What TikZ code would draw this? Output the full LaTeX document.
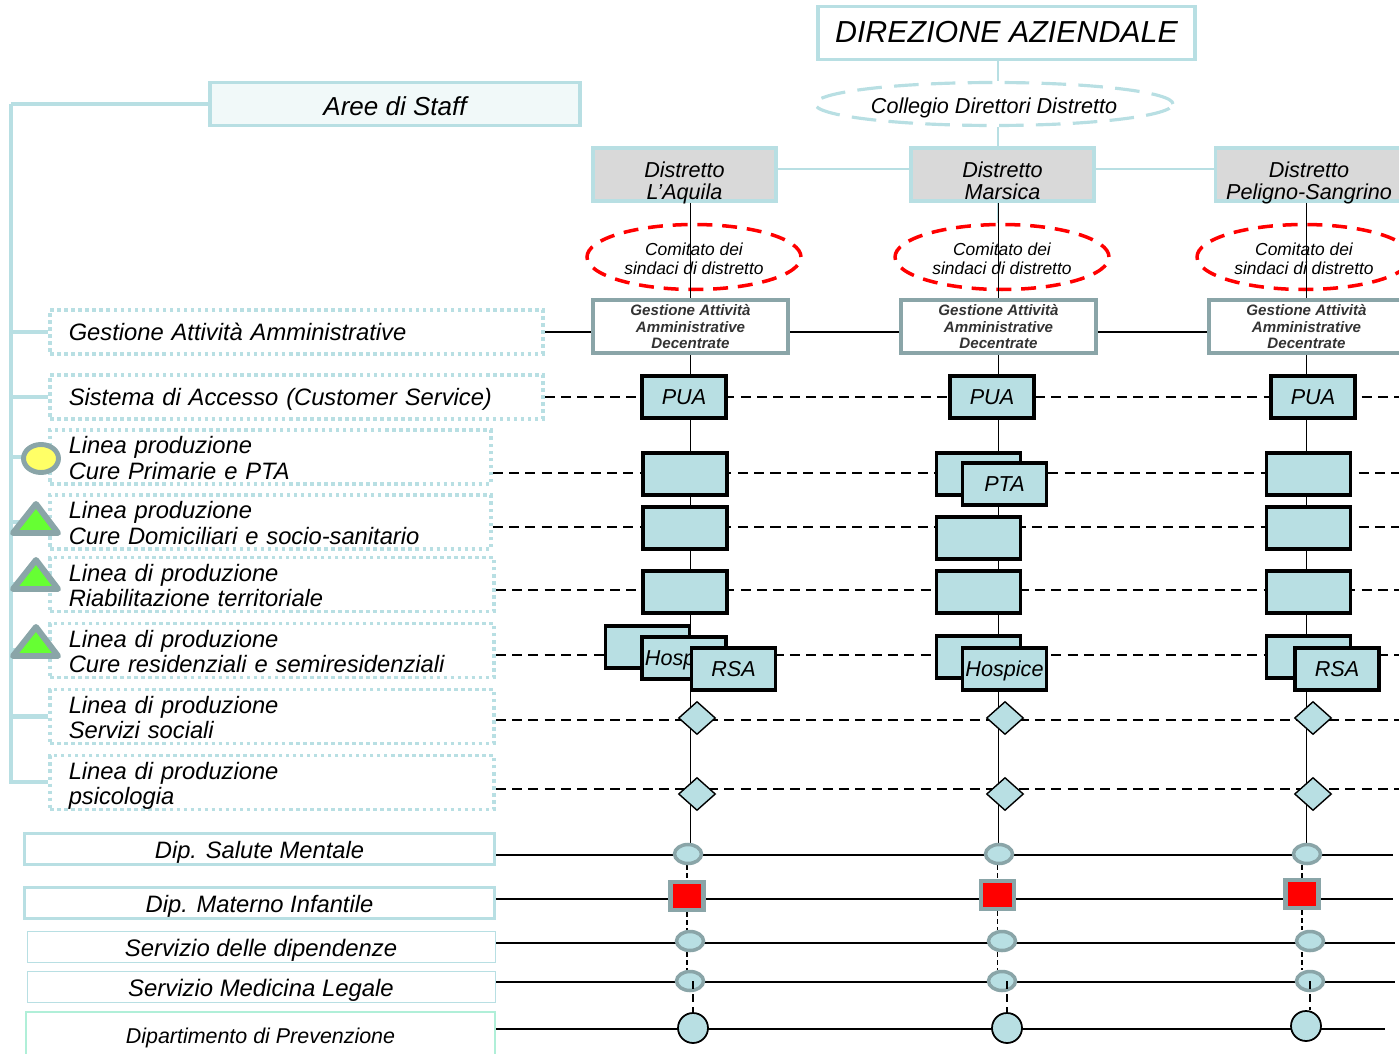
\documentclass[tikz,border=0pt]{standalone}
\usepackage{fontspec}
\setmainfont{Liberation Sans}
\usetikzlibrary{shapes, backgrounds}
\definecolor{paleblue}{HTML}{B8DFE3}
\definecolor{palegrey}{HTML}{8AA5A8}
\definecolor{palegreen}{HTML}{B0EFD8}
\definecolor{staffbg}{HTML}{F1F9F9}
\definecolor{icogreen}{HTML}{66FF33}
\definecolor{icoyellow}{HTML}{FFFF66}
\tikzset{
	every node/.style={font=\itshape, inner sep=0pt, align=center, text depth=0pt},
	txtbig/.style={font=\itshape\fontsize{17.3pt}{20pt}\selectfont, text depth=.04cm},
	txtmain/.style={font=\itshape\fontsize{13.5pt}{14.6pt}\selectfont},
	txtdist/.style={font=\itshape\fontsize{12.3pt}{12.8pt}\selectfont},
	txtcom/.style={font=\itshape\fontsize{9.9pt}{11.2pt}\selectfont, text height=.72cm},
	txtgest/.style={font=\itshape\bfseries\fontsize{8.6pt}{9.2pt}\selectfont, text=black!80},
	staffline/.style={draw=paleblue, line width=2.6pt},
	thinblue/.style={draw=paleblue, line width=.6pt},
	distbox/.style={draw=paleblue, line width=2.2pt, fill=black!15, minimum width=3.65cm, minimum height=1.06cm, txtdist, text height=1cm},
	comell/.style={ellipse, draw=red, line width=2pt, dash pattern=on 8.5pt off 5.6pt, minimum width=4.28cm, minimum height=1.3cm, txtcom},
	gestbox/.style={draw=palegrey, line width=2.2pt, fill=white, minimum width=3.9cm, minimum height=1.06cm, txtgest},
	servbox/.style={draw=black, line width=2pt, fill=paleblue, minimum width=1.68cm, minimum height=.84cm, txtdist},
	dotbox/.style={draw=paleblue, line width=2pt, dash pattern=on 2pt off 2pt, fill=white, txtmain, align=left, text width=#1, inner xsep=.375cm},
	oneline/.style={minimum height=.88cm},
	twoline/.style={minimum height=1.08cm, text depth=.48cm},
	rowdash/.style={draw=black, line width=1.2pt, dash pattern=on 5.7pt off 3.6pt},
	rowline/.style={draw=black, line width=1pt},
	colline/.style={draw=black, line width=1.1pt},
	dotline/.style={draw=black, line width=.8pt, dash pattern=on 2.5pt off 2pt},
	lastline/.style={draw=black, line width=1.2pt, dash pattern=on 4.5pt off 3pt},
	dia/.style={diamond, draw=black, line width=.8pt, fill=paleblue, minimum width=.74cm, minimum height=.66cm},
	ell/.style={ellipse, draw=palegrey, line width=2pt, fill=paleblue, minimum width=.54cm, minimum height=.38cm},
	sq/.style={draw=palegrey, line width=2.6pt, fill=red, minimum width=.66cm, minimum height=.56cm},
	roundel/.style={circle, draw=black, line width=1pt, fill=paleblue, minimum size=.6cm},
	dipbox/.style={draw=paleblue, line width=1.8pt, fill=white, minimum width=9.4cm, minimum height=.62cm, txtmain, text height=.38cm},
	servlight/.style={draw=paleblue, line width=.5pt, fill=white, minimum width=9.36cm, minimum height=.62cm, font=\itshape\fontsize{13.6pt}{14.6pt}\selectfont, text height=.38cm},
	icotri/.style={draw=palegrey, line width=3.4pt, line join=round, fill=icogreen}
}
\begin{document}
\begin{tikzpicture}[x=0.02cm, y=-0.02cm]
	\useasboundingbox (0,0) rectangle (1399,1054);
	\coordinate (spineTop) at (11,104);
	\coordinate (spineEnd) at (11,782);
	\coordinate (staffRow) at (998,169);
	\coordinate (endGest) at (1399,332);
	\coordinate (endCure) at (1399,473);
	\coordinate (endDom) at (1399,527);
	\coordinate (endRiab) at (1399,590);
	\coordinate (endRes) at (1399,655);
	\coordinate (endSoc) at (1399,720);
	\coordinate (endPsi) at (1399,789);
	\coordinate (endSalute) at (1393,855);
	\coordinate (endMaterno) at (1393,899);
	\coordinate (endDipend) at (1395,943);
	\coordinate (endLegale) at (1395,982);
	\coordinate (endPrev) at (1385,1029);
	\coordinate (endPua) at (1399,397);

	\node[draw=paleblue, line width=1.8pt, fill=white, minimum width=7.54cm, minimum height=1.06cm, txtbig] (direzione) at (1006.5,33) {DIREZIONE AZIENDALE};
	\node[draw=paleblue, line width=1.8pt, fill=staffbg, minimum width=7.4cm, minimum height=.86cm, font=\itshape\fontsize{14.8pt}{16pt}\selectfont, text height=.46cm] (aree) at (395,104) {Aree di Staff};
	\node[ellipse, draw=paleblue, line width=1.8pt, dash pattern=on 14pt off 7pt, fill=white, minimum width=7.16cm, minimum height=.86cm, font=\itshape\fontsize{12.3pt}{14pt}\selectfont, text height=.4cm] (collegio) at (994,104) {Collegio Direttori Distretto};

	\node[distbox] (distAquila) at (684.5,174.5) {Distretto\\L’Aquila};
	\node[distbox] (distMarsica) at (1002.5,174.5) {Distretto\\Marsica};
	\node[distbox, minimum width=3.74cm] (distPeligno) at (1309,174.5) {Distretto\\Peligno-Sangrino};

	\node[comell] (comAquila) at (694,257) {Comitato dei\\sindaci di distretto};
	\node[comell] (comMarsica) at (1002,257) {Comitato dei\\sindaci di distretto};
	\node[comell] (comPeligno) at (1304,257) {Comitato dei\\sindaci di distretto};

	\node[gestbox] (gestAquila) at (690.5,326.5) {Gestione Attività\\Amministrative\\Decentrate};
	\node[gestbox] (gestMarsica) at (998.5,326.5) {Gestione Attività\\Amministrative\\Decentrate};
	\node[gestbox] (gestPeligno) at (1306.5,326.5) {Gestione Attività\\Amministrative\\Decentrate};

	\node[dotbox=9.11cm, oneline] (gestAmm) at (296.5,332) {Gestione Attività Amministrative};
	\node[dotbox=9.11cm, oneline] (sistema) at (296.5,397) {Sistema di Accesso (Customer Service)};
	\node[dotbox=8.07cm, twoline] (lineaCure) at (270.5,457) {Linea produzione\\Cure Primarie e PTA};
	\node[dotbox=8.07cm, twoline] (lineaDom) at (270.5,522) {Linea produzione\\Cure Domiciliari e socio-sanitario};
	\node[dotbox=8.13cm, twoline] (lineaRiab) at (272,584.5) {Linea di produzione\\Riabilitazione territoriale};
	\node[dotbox=8.13cm, twoline] (lineaRes) at (272,650.5) {Linea di produzione\\Cure residenziali e semiresidenziali};
	\node[dotbox=8.13cm, twoline] (lineaSoc) at (272,716.5) {Linea di produzione\\Servizi sociali};
	\node[dotbox=8.13cm, twoline] (lineaPsi) at (272,782.5) {Linea di produzione\\psicologia};

	\node[ellipse, draw=palegrey, line width=2.8pt, fill=icoyellow, minimum width=.7cm, minimum height=.56cm] (icoCure) at (41,458.5) {};
	\draw[icotri] (36,504) -- (13,533) -- (58,533) -- cycle;
	\draw[icotri] (36,560) -- (13,589) -- (58,589) -- cycle;
	\draw[icotri] (36,627) -- (13,656) -- (58,656) -- cycle;

	\node[servbox] (puaAquila) at (684,397) {PUA};
	\node[servbox] (puaMarsica) at (992,397) {PUA};
	\node[servbox] (puaPeligno) at (1313,397) {PUA};

	\node[servbox] (cureAquila) at (685,474) {};
	\node[servbox] (cureMarsica) at (978.5,474) {};
	\node[servbox] (pta) at (1004.5,484) {PTA};
	\node[servbox] (curePeligno) at (1308.5,474) {};

	\node[servbox] (domAquila) at (685,528) {};
	\node[servbox] (domMarsica) at (978.5,538) {};
	\node[servbox] (domPeligno) at (1308.5,528) {};

	\node[servbox] (riabAquila) at (685,592) {};
	\node[servbox] (riabMarsica) at (978.5,592) {};
	\node[servbox] (riabPeligno) at (1308.5,592) {};

	\node[servbox] (resAquila) at (647.5,647) {};
	\node[servbox] (hospAquila) at (684,658) {Hospice};
	\node[servbox] (rsaAquila) at (733.5,669) {RSA};
	\node[servbox] (resMarsica) at (978.5,657) {};
	\node[servbox] (hospMarsica) at (1004.5,669) {Hospice};
	\node[servbox] (resPeligno) at (1308.5,657) {};
	\node[servbox] (rsaPeligno) at (1337,669) {RSA};

	\node[dia] (socAquila) at (697,718) {};
	\node[dia] (socMarsica) at (1005,718) {};
	\node[dia] (socPeligno) at (1313,718) {};
	\node[dia] (psiAquila) at (697,794) {};
	\node[dia] (psiMarsica) at (1005,794) {};
	\node[dia] (psiPeligno) at (1313,794) {};

	\node[dipbox] (dipSalute) at (259.5,849) {Dip. Salute Mentale};
	\node[dipbox] (dipMaterno) at (259.5,903) {Dip. Materno Infantile};
	\node[servlight] (servDipend) at (261,947) {Servizio delle dipendenze};
	\node[servlight] (servLegale) at (261,986.5) {Servizio Medicina Legale};
	\node[draw=palegreen, line width=1.2pt, fill=white, minimum width=9.38cm, minimum height=.96cm, font=\itshape\fontsize{12.2pt}{14pt}\selectfont] (dipPrev) at (260.5,1036) {Dipartimento di Prevenzione};

	\node[ell] (saluteAquila) at (688,854) {};
	\node[ell] (saluteMarsica) at (999,854) {};
	\node[ell] (salutePeligno) at (1307,854) {};
	\node[sq] (maternoAquila) at (687,896) {};
	\node[sq] (maternoMarsica) at (997.5,895) {};
	\node[sq] (maternoPeligno) at (1302,894) {};
	\node[ell] (dipendAquila) at (690,941) {};
	\node[ell] (dipendMarsica) at (1002,941) {};
	\node[ell] (dipendPeligno) at (1310,941) {};
	\node[ell] (legaleAquila) at (690,981) {};
	\node[ell] (legaleMarsica) at (1002,981) {};
	\node[ell] (legalePeligno) at (1310,981) {};
	\node[roundel] (prevAquila) at (693,1028) {};
	\node[roundel] (prevMarsica) at (1007,1028) {};
	\node[roundel] (prevPeligno) at (1306,1026) {};

	\begin{scope}[on background layer]
		\draw[staffline] (spineTop) -- (aree.west |- spineTop);
		\draw[staffline] (spineTop) -- (spineEnd) -- (lineaPsi.west |- spineEnd);
		\draw[staffline] (spineTop |- gestAmm.west) -- (gestAmm.west);
		\draw[staffline] (spineTop |- sistema.west) -- (sistema.west);
		\draw[staffline] (spineTop |- lineaCure.west) -- (lineaCure.west);
		\draw[staffline] (spineTop |- lineaDom.west) -- (lineaDom.west);
		\draw[staffline] (spineTop |- lineaRiab.west) -- (lineaRiab.west);
		\draw[staffline] (spineTop |- lineaRes.west) -- (lineaRes.west);
		\draw[staffline] (spineTop |- lineaSoc.west) -- (lineaSoc.west);
		\draw[thinblue, line width=1.2pt] (staffRow |- direzione.south) -- (staffRow |- collegio.north);
		\draw[thinblue, line width=1.2pt] (staffRow |- collegio.south) -- (staffRow |- distMarsica.north);
		\draw[thinblue, line width=.8pt] (staffRow |- distMarsica.south) -- (staffRow |- comMarsica.north);
		\draw[thinblue] (distAquila.east |- staffRow) -- (distMarsica.west |- staffRow);
		\draw[thinblue] (distMarsica.east |- staffRow) -- (distPeligno.west |- staffRow);

		\draw[rowdash] (sistema.east) -- (endPua);
		\draw[rowdash] (lineaCure.east |- endCure) -- (endCure);
		\draw[rowdash] (lineaDom.east |- endDom) -- (endDom);
		\draw[rowdash] (lineaRiab.east |- endRiab) -- (endRiab);
		\draw[rowdash] (lineaRes.east |- endRes) -- (endRes);
		\draw[rowdash] (lineaSoc.east |- endSoc) -- (endSoc);
		\draw[rowdash] (lineaPsi.east |- endPsi) -- (endPsi);

		\draw[rowline] (gestAmm.east |- endGest) -- (gestAquila.west |- endGest);
		\draw[rowline] (gestAquila.east |- endGest) -- (gestMarsica.west |- endGest);
		\draw[rowline] (gestMarsica.east |- endGest) -- (gestPeligno.west |- endGest);
		\draw[rowline] (dipSalute.east |- endSalute) -- (endSalute);
		\draw[rowline] (dipMaterno.east |- endMaterno) -- (endMaterno);
		\draw[rowline] (servDipend.east |- endDipend) -- (endDipend);
		\draw[rowline] (servLegale.east |- endLegale) -- (endLegale);
		\draw[rowline, line width=1.6pt] (dipPrev.east |- endPrev) -- (endPrev);

		\draw[dotline] (maternoAquila |- saluteAquila.south) -- (maternoAquila.north);
		\draw[dotline] (maternoAquila.south) -- (maternoAquila |- dipendAquila.north);
		\draw[dotline] (maternoAquila |- dipendAquila.south) -- (maternoAquila |- legaleAquila.north);
		\draw[dotline] (maternoMarsica |- saluteMarsica.south) -- (maternoMarsica.north);
		\draw[dotline] (maternoMarsica.south) -- (maternoMarsica |- dipendMarsica.north);
		\draw[dotline] (maternoMarsica |- dipendMarsica.south) -- (maternoMarsica |- legaleMarsica.north);
		\draw[dotline] (maternoPeligno |- salutePeligno.south) -- (maternoPeligno.north);
		\draw[dotline] (maternoPeligno.south) -- (maternoPeligno |- dipendPeligno.north);
		\draw[dotline] (maternoPeligno |- dipendPeligno.south) -- (maternoPeligno |- legalePeligno.north);

		\draw[colline] (gestAquila.south) -- (gestAquila |- saluteAquila.north);
		\draw[colline] (gestMarsica.south) -- (gestMarsica |- saluteMarsica.north);
		\draw[colline] (gestPeligno.south) -- (gestPeligno |- salutePeligno.north);
	\end{scope}

	\draw[colline] (gestAquila |- distAquila.south) -- (gestAquila.north);
	\draw[colline] (gestMarsica |- distMarsica.south) -- (gestMarsica.north);
	\draw[colline] (gestPeligno |- distPeligno.south) -- (gestPeligno.north);
	\draw[lastline] (prevAquila |- legaleAquila.center) -- (prevAquila.north);
	\draw[lastline] (prevMarsica |- legaleMarsica.center) -- (prevMarsica.north);
	\draw[lastline] (legalePeligno.center) -- (legalePeligno |- prevPeligno.north);
\end{tikzpicture}
\end{document}
